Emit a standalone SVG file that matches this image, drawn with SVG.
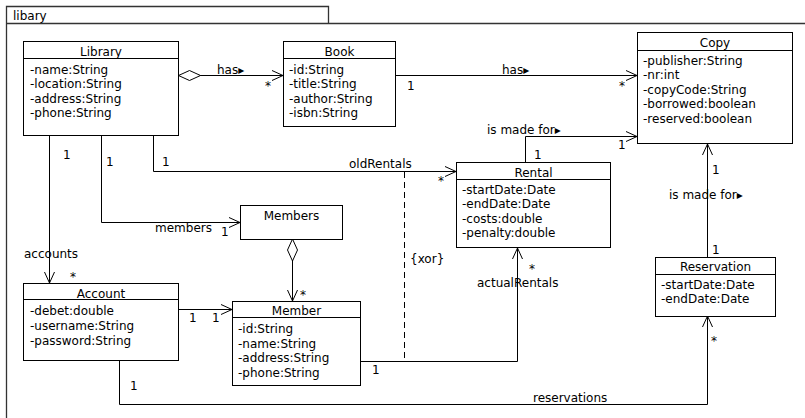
<svg xmlns="http://www.w3.org/2000/svg" width="805" height="418" viewBox="0 0 805 418">
  <style>
    text { font-family: "DejaVu Sans", "Liberation Sans", sans-serif; font-size: 12px; fill: #000; }
    .c { text-anchor: middle; }
    .box { fill: #fff; stroke: #000; stroke-width: 1; }
    .div { stroke: #000; stroke-width: 1; }
    .frame { fill: none; stroke: #333; stroke-width: 1.3; }
    .edge { fill: none; stroke: #000; stroke-width: 1; }
    .nav { marker-end: url(#open); }
    .agg { marker-start: url(#diamond); }
    .dash { fill: none; stroke: #000; stroke-width: 1; stroke-dasharray: 6 4; }
  </style>
  <defs>
    <marker id="open" markerUnits="userSpaceOnUse" viewBox="0 0 12 12" refX="11" refY="6" markerWidth="12" markerHeight="12" orient="auto">
      <path d="M0,1 L11,6 L0,11" fill="none" stroke="#000" stroke-width="1"/>
    </marker>
    <marker id="diamond" markerUnits="userSpaceOnUse" viewBox="-1 -1 24 12" refX="0" refY="5" markerWidth="24" markerHeight="12" orient="auto">
      <path d="M0,5 L11,0 L22,5 L11,10 Z" fill="#fff" stroke="#000" stroke-width="1"/>
    </marker>
  </defs>

  <rect width="805" height="418" fill="#fff"/>

  <!-- package frame -->
  <g id="frame">
    <path class="frame" d="M6.5,430 V6.5 H328.5 V23.5"/>
    <path class="frame" d="M6.5,23.5 H805"/>
    <text x="13" y="19.5">libary</text>
  </g>

  <!-- associations -->
  <g id="connectors">
    <!-- Library <>- Book -->
    <path class="edge agg nav" d="M178.5,75.5 H283"/>
    <text x="217" y="73.5">has▸</text>
    <text x="265" y="90">*</text>

    <!-- Book - Copy -->
    <path class="edge nav" d="M395.5,75.5 H637"/>
    <text x="502" y="73.5">has▸</text>
    <text x="407" y="90">1</text>
    <text x="619" y="90">*</text>

    <!-- Rental - Copy -->
    <path class="edge nav" d="M525.5,162 V136.5 H637"/>
    <text x="487" y="133.5">is made for▸</text>
    <text x="534" y="159">1</text>
    <text x="618" y="148.5">1</text>

    <!-- Library - Rental (oldRentals) -->
    <path class="edge nav" d="M153.5,135 V171.5 H456"/>
    <text x="162" y="166">1</text>
    <text x="349" y="168">oldRentals</text>
    <text x="438" y="185">*</text>

    <!-- Library - Members -->
    <path class="edge nav" d="M101.5,135 V222.5 H240"/>
    <text x="106" y="166">1</text>
    <text x="155" y="231.5">members</text>
    <text x="221" y="236">1</text>

    <!-- Library - Account -->
    <path class="edge nav" d="M49.5,135 V283"/>
    <text x="63" y="159">1</text>
    <text x="24" y="258">accounts</text>
    <text x="70" y="281">*</text>

    <!-- Members <>- Member -->
    <path class="edge agg nav" d="M292.5,239 V301"/>
    <text x="300" y="299">*</text>

    <!-- Account - Member -->
    <path class="edge nav" d="M178,309.5 H232"/>
    <text x="189" y="322">1</text>
    <text x="212" y="322">1</text>

    <!-- Member - Rental (actualRentals) -->
    <path class="edge nav" d="M360,361.5 H517.5 V248"/>
    <text x="372" y="374">1</text>
    <text x="529" y="273">*</text>
    <text x="477" y="287">actualRentals</text>

    <!-- xor constraint -->
    <path class="dash" d="M404.5,172 V361"/>
    <text x="410" y="263">{xor}</text>

    <!-- Account - Reservation -->
    <path class="edge nav" d="M119.5,360 V404.5 H707.5 V316"/>
    <text x="130" y="390">1</text>
    <text x="533" y="402">reservations</text>
    <text x="711" y="345">*</text>

    <!-- Reservation - Copy -->
    <path class="edge nav" d="M707.5,257 V144"/>
    <text x="712" y="174">1</text>
    <text x="669" y="198.5">is made for▸</text>
    <text x="712" y="254">1</text>
  </g>

  <!-- classes -->
  <g id="Library">
    <rect class="box" x="23.5" y="41.5" width="155" height="94"/>
    <line class="div" x1="23.5" y1="58.5" x2="178.5" y2="58.5"/>
    <text class="c" x="101" y="55.5">Library</text>
    <text x="30" y="73.5">-name:String</text>
    <text x="30" y="88">-location:String</text>
    <text x="30" y="102.5">-address:String</text>
    <text x="30" y="117">-phone:String</text>
  </g>

  <g id="Book">
    <rect class="box" x="283.5" y="41.5" width="112" height="85"/>
    <line class="div" x1="283.5" y1="58.5" x2="395.5" y2="58.5"/>
    <text class="c" x="339.5" y="55.5">Book</text>
    <text x="289" y="73.5">-id:String</text>
    <text x="289" y="88">-title:String</text>
    <text x="289" y="102.5">-author:String</text>
    <text x="289" y="117">-isbn:String</text>
  </g>

  <g id="Copy">
    <rect class="box" x="637.5" y="32.5" width="155" height="111"/>
    <line class="div" x1="637.5" y1="50.5" x2="792.5" y2="50.5"/>
    <text class="c" x="715" y="47">Copy</text>
    <text x="643" y="65">-publisher:String</text>
    <text x="643" y="79.4">-nr:int</text>
    <text x="643" y="93.8">-copyCode:String</text>
    <text x="643" y="108.2">-borrowed:boolean</text>
    <text x="643" y="122.6">-reserved:boolean</text>
  </g>

  <g id="Rental">
    <rect class="box" x="456.5" y="162.5" width="154" height="85"/>
    <line class="div" x1="456.5" y1="179.5" x2="610.5" y2="179.5"/>
    <text class="c" x="533.5" y="177">Rental</text>
    <text x="462" y="193.5">-startDate:Date</text>
    <text x="462" y="208">-endDate:Date</text>
    <text x="462" y="222.5">-costs:double</text>
    <text x="462" y="237">-penalty:double</text>
  </g>

  <g id="Members">
    <rect class="box" x="240.5" y="205.5" width="102" height="34"/>
    <text class="c" x="291.5" y="220">Members</text>
  </g>

  <g id="Account">
    <rect class="box" x="23.5" y="283.5" width="155" height="77"/>
    <line class="div" x1="23.5" y1="299.5" x2="178.5" y2="299.5"/>
    <text class="c" x="101" y="297.5">Account</text>
    <text x="30" y="315">-debet:double</text>
    <text x="30" y="330">-username:String</text>
    <text x="30" y="345">-password:String</text>
  </g>

  <g id="Member">
    <rect class="box" x="232.5" y="301.5" width="128" height="84"/>
    <line class="div" x1="232.5" y1="317.5" x2="360.5" y2="317.5"/>
    <text class="c" x="296.5" y="315">Member</text>
    <text x="238" y="333">-id:String</text>
    <text x="238" y="347.5">-name:String</text>
    <text x="238" y="362">-address:String</text>
    <text x="238" y="376.5">-phone:String</text>
  </g>

  <g id="Reservation">
    <rect class="box" x="655.5" y="257.5" width="120" height="59"/>
    <line class="div" x1="655.5" y1="274.5" x2="775.5" y2="274.5"/>
    <text class="c" x="715.5" y="271">Reservation</text>
    <text x="661" y="289">-startDate:Date</text>
    <text x="661" y="303">-endDate:Date</text>
  </g>
</svg>
